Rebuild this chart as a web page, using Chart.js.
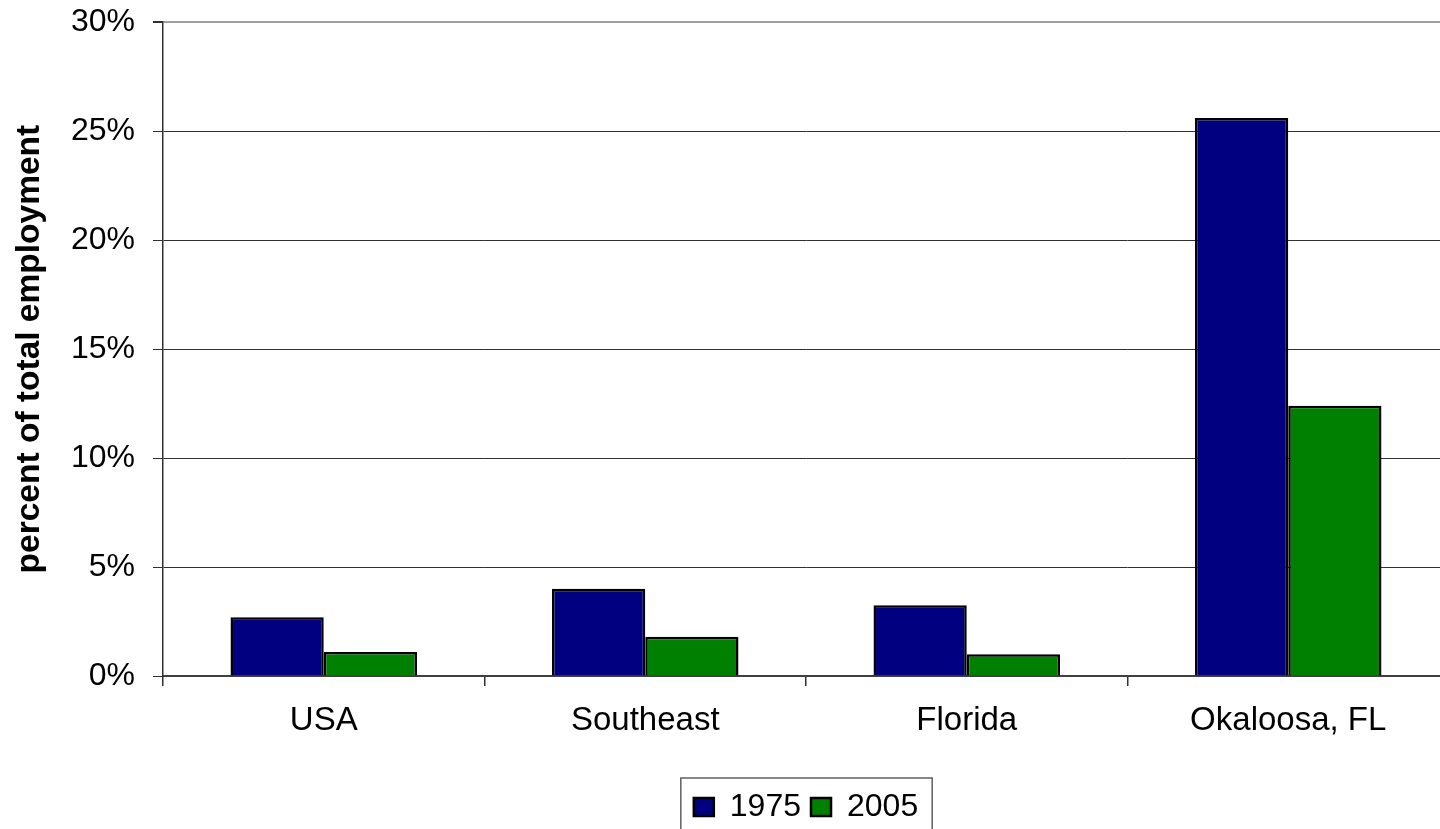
<!DOCTYPE html>
<html>
<head>
<meta charset="utf-8">
<title>percent of total employment</title>
<script src="https://cdn.jsdelivr.net/npm/chart.js@4.4.1/dist/chart.umd.min.js"></script>
<style>
    html, body {
        margin: 0;
        padding: 0;
        background: #ffffff;
        overflow: hidden;
    }

    /* canvas is a bit larger than the window: the plot runs off the right
       edge and the legend frame off the bottom, like the original */
    #chartBox {
        position: relative;
        top: -15px;
        width: 1449px;
        height: 848px;
    }
</style>
</head>
<body>

<div id="chartBox">
    <canvas id="employmentChart"></canvas>
</div>

<script>

const regions = [
    "USA",
    "Southeast",
    "Florida",
    "Okaloosa, FL"
];

const values1975 = [2.7, 4.0, 3.25, 25.6];

const values2005 = [1.1, 1.8, 1.0, 12.4];

const yTicks = [0, 5, 10, 15, 20, 25, 30];

const fontFamily =
    "'Liberation Sans', Arial, Helvetica, sans-serif";


// Chart.js has no legend border, so draw one round the legend items
const legendBorder = {

    id: "legendBorder",

    afterDraw(chart) {

        let boxes =
            chart.legend.legendHitBoxes;

        if (!boxes || boxes.length === 0) {
            return;
        }

        let left = Math.min(...boxes.map(b => b.left));
        let top = Math.min(...boxes.map(b => b.top));
        let right = Math.max(...boxes.map(b => b.left + b.width));
        let bottom = Math.max(...boxes.map(b => b.top + b.height));

        const ctx = chart.ctx;

        ctx.save();
        ctx.strokeStyle = "#606060";
        ctx.lineWidth = 1.5;
        ctx.strokeRect(
            left - 13,
            top - 13,
            right - left + 27,
            bottom - top + 40
        );
        ctx.restore();

    }

};


function createEmploymentChart() {

    const chartCanvas =
        document.getElementById("employmentChart");

    new Chart(chartCanvas, {

        type: "bar",

        data: {

            labels: regions,

            datasets: [
                {
                    label: "1975",
                    data: values1975,
                    backgroundColor: "#000080",
                    borderColor: "#000000",
                    borderWidth: 2.5
                },
                {
                    label: "2005",
                    data: values2005,
                    backgroundColor: "#008000",
                    borderColor: "#000000",
                    borderWidth: 2.5
                }
            ]

        },

        options: {

            responsive: true,
            maintainAspectRatio: false,
            animation: false,

            categoryPercentage: 0.58,
            barPercentage: 1.0,

            layout: {
                padding: 0
            },

            plugins: {

                tooltip: {
                    enabled: false
                },

                legend: {
                    position: "bottom",
                    fullSize: false,
                    labels: {
                        color: "#000000",
                        boxWidth: 20,
                        boxHeight: 18,
                        padding: 10,
                        font: {
                            family: fontFamily,
                            size: 32
                        }
                    }
                }

            },

            scales: {

                x: {
                    grid: {
                        drawOnChartArea: false,
                        drawTicks: true,
                        tickLength: 10,
                        color: "#303030",
                        lineWidth: 1.5
                    },
                    border: {
                        display: true,
                        color: "#404040",
                        width: 2
                    },
                    ticks: {
                        color: "#000000",
                        padding: 15,
                        maxRotation: 0,
                        font: {
                            family: fontFamily,
                            size: 33
                        }
                    },
                    afterFit(scale) {
                        scale.height = 105;
                    }
                },

                y: {
                    min: 0,
                    max: 30,
                    afterBuildTicks(scale) {
                        scale.ticks = yTicks.map(v => ({ value: v }));
                    },
                    grid: {
                        tickLength: 10,
                        color: ctx =>
                            ctx.tick && ctx.tick.value === 30 ? "#a0a0a0" : "#303030",
                        lineWidth: ctx =>
                            ctx.tick && ctx.tick.value === 30 ? 2 : 1,
                        tickColor: "#303030"
                    },
                    border: {
                        display: true,
                        color: "#303030",
                        width: 1.5
                    },
                    ticks: {
                        color: "#000000",
                        padding: 18,
                        font: {
                            family: fontFamily,
                            size: 32
                        },
                        callback: value => value + "%"
                    },
                    title: {
                        display: true,
                        text: "percent of total employment",
                        color: "#000000",
                        padding: { top: 10, bottom: 0 },
                        font: {
                            family: fontFamily,
                            size: 33.5,
                            weight: "bold"
                        }
                    },
                    afterFit(scale) {
                        scale.width = 163;
                    }
                }

            }

        },

        plugins: [legendBorder]

    });

}

window.onload = function() {

    createEmploymentChart();

}

</script>
</body>
</html>
